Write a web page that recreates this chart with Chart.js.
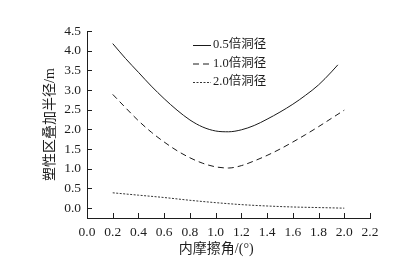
<!DOCTYPE html>
<html>
<head>
<meta charset="utf-8">
<script src="https://cdn.jsdelivr.net/npm/chart.js@4/dist/chart.umd.min.js"></script>
<style>
html,body{margin:0;padding:0;background:#fff;}
#wrap{width:408px;height:267px;position:relative;}
</style>
</head>
<body>
<div id="wrap"><canvas id="c" width="408" height="267"></canvas></div>
<script>
// Data
const seriesNames = ['0.5倍洞径', '1.0倍洞径', '2.0倍洞径'];
const x05 = [0.2, 0.3, 0.4, 0.5, 0.6, 0.7, 0.8, 0.9, 1.0, 1.1, 1.2, 1.3, 1.4, 1.5, 1.6, 1.7, 1.8, 1.9, 1.95];
const y05 = [4.18, 3.8, 3.45, 3.1, 2.78, 2.49, 2.24, 2.06, 1.96, 1.94, 1.99, 2.1, 2.26, 2.44, 2.64, 2.87, 3.13, 3.46, 3.64];
const x10 = [0.2, 0.3, 0.4, 0.5, 0.6, 0.7, 0.8, 0.9, 1.0, 1.1, 1.2, 1.3, 1.4, 1.5, 1.6, 1.7, 1.8, 1.9, 2.0];
const y10 = [2.89, 2.55, 2.22, 1.93, 1.68, 1.46, 1.28, 1.14, 1.05, 1.02, 1.08, 1.2, 1.34, 1.5, 1.68, 1.87, 2.07, 2.28, 2.49];
const x20 = [0.2, 0.4, 0.6, 0.8, 1.0, 1.2, 1.4, 1.6, 1.8, 2.0];
const y20 = [0.39, 0.33, 0.27, 0.2, 0.14, 0.09, 0.055, 0.03, 0.015, 0.0];
const xTicks = [0.0, 0.2, 0.4, 0.6, 0.8, 1.0, 1.2, 1.4, 1.6, 1.8, 2.0, 2.2];
const yTicks = [0.0, 0.5, 1.0, 1.5, 2.0, 2.5, 3.0, 3.5, 4.0, 4.5];
const xTitle = '内摩擦角/(°)';
const yTitle = '塑性区叠加半径/m';

const pts = (xs, ys) => xs.map((x, i) => ({x: x, y: ys[i]}));
const FONT = "'Liberation Serif', 'Noto Sans CJK SC', serif";
const INK = '#1e1e1e';

const tickPlugin = {
  id: 'innerTicks',
  afterDraw(chart) {
    const ctx = chart.ctx;
    const xs = chart.scales.x, ys = chart.scales.y;
    const a = chart.chartArea;
    ctx.save();
    ctx.strokeStyle = INK;
    ctx.lineWidth = 1;
    ctx.beginPath();
    xTicks.forEach(v => {
      if (v === 0) return;
      const px = Math.round(xs.getPixelForValue(v)) + 0.5;
      ctx.moveTo(px, a.bottom);
      ctx.lineTo(px, a.bottom - 5);
    });
    yTicks.forEach(v => {
      const py = Math.round(ys.getPixelForValue(v)) + 0.5;
      ctx.moveTo(a.left, py);
      ctx.lineTo(a.left + 5, py);
    });
    ctx.stroke();
    // legend
    const rows = [45, 63.5, 82];
    ctx.font = '12.5px ' + FONT;
    ctx.fillStyle = INK;
    ctx.textBaseline = 'middle';
    ctx.textAlign = 'left';
    chart.data.datasets.forEach((ds, i) => {
      ctx.strokeStyle = ds.borderColor;
      ctx.lineWidth = 1;
      ctx.setLineDash(ds.borderDash || []);
      ctx.beginPath();
      ctx.moveTo(193, rows[i] + 0.5);
      ctx.lineTo(211, rows[i] + 0.5);
      ctx.stroke();
      ctx.setLineDash([]);
      ctx.fillText(ds.label, 213, rows[i]);
    });
    ctx.restore();
  }
};

new Chart(document.getElementById('c'), {
  type: 'line',
  data: {
    datasets: [
      {label: seriesNames[0], data: pts(x05, y05), borderColor: '#1a1a1a', borderWidth: 1, pointRadius: 0, tension: 0.4, cubicInterpolationMode: 'monotone', fill: false},
      {label: seriesNames[1], data: pts(x10, y10), borderColor: '#1a1a1a', borderWidth: 1, borderDash: [6, 4], pointRadius: 0, tension: 0.4, cubicInterpolationMode: 'monotone', fill: false},
      {label: seriesNames[2], data: pts(x20, y20), borderColor: '#333', borderWidth: 1, borderDash: [2, 1.5], pointRadius: 0, tension: 0.4, cubicInterpolationMode: 'monotone', fill: false}
    ]
  },
  options: {
    responsive: false,
    animation: false,
    devicePixelRatio: 1,
    layout: {padding: {left: 0, top: 31, right: 38, bottom: 0}},
    plugins: {legend: {display: false}, tooltip: {enabled: false}},
    scales: {
      x: {
        type: 'linear', min: 0, max: 2.2,
        afterBuildTicks: s => { s.ticks = xTicks.map(v => ({value: v})); },
        afterFit: s => { s.height = 49; },
        grid: {display: true, drawOnChartArea: false, drawTicks: false, color: INK},
        border: {display: true, color: INK, width: 1},
        ticks: {padding: 6, color: INK, font: {family: FONT, size: 13.5}, maxRotation: 0, autoSkip: false,
          callback: v => Number(v).toFixed(1)},
        title: {display: true, text: xTitle + '\u00a0\u00a0\u00a0\u00a0\u00a0\u00a0\u00a0', color: INK, font: {family: FONT, size: 14}, padding: {top: 0, bottom: 9}}
      },
      y: {
        type: 'linear', min: -0.25, max: 4.5,
        afterBuildTicks: s => { s.ticks = yTicks.map(v => ({value: v})); },
        afterFit: s => { s.width = 87; },
        grid: {display: true, drawOnChartArea: false, drawTicks: false, color: INK},
        border: {display: true, color: INK, width: 1},
        ticks: {padding: 6, color: INK, font: {family: FONT, size: 13.5}, autoSkip: false,
          callback: v => Number(v).toFixed(1)},
        title: {display: true, text: yTitle, color: INK, font: {family: FONT, size: 14}, padding: {top: 42, bottom: 0}}
      }
    }
  },
  plugins: [tickPlugin]
});
</script>
</body>
</html>
